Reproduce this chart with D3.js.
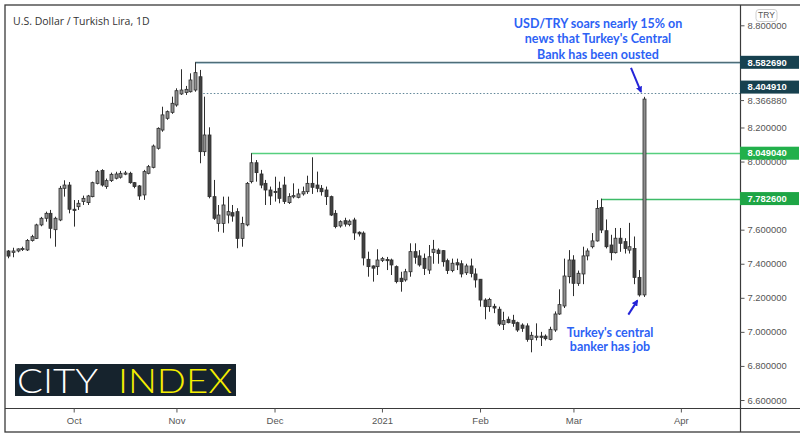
<!DOCTYPE html>
<html><head><meta charset="utf-8">
<script src="https://cdn.jsdelivr.net/npm/d3@7"></script>
<style>body{margin:0;background:#fff}svg{display:block}</style>
</head><body><svg id="c" width="800" height="439"></svg>
<script>
// ---- data ----
const startDate = "2020-09-11", endDate = "2021-03-22", axisEndDate = "2021-04-09";
const opens = [7.475,7.467,7.475,7.485,7.481,7.536,7.549,7.628,7.667,7.696,7.600,7.657,7.843,7.862,7.720,7.735,7.765,7.759,7.794,7.872,7.947,7.853,7.888,7.902,7.908,7.931,7.931,7.876,7.857,7.804,7.931,7.966,8.078,8.185,8.254,8.289,8.332,8.397,8.405,8.410,8.420,8.498,8.058,8.156,7.794,7.637,7.637,7.686,7.700,7.706,7.549,7.628,7.882,7.993,7.927,7.872,7.833,7.825,7.843,7.862,7.759,7.794,7.790,7.810,7.823,7.872,7.862,7.843,7.833,7.794,7.696,7.622,7.653,7.630,7.657,7.585,7.580,7.426,7.387,7.383,7.420,7.425,7.422,7.383,7.315,7.305,7.353,7.471,7.446,7.432,7.363,7.467,7.480,7.477,7.418,7.360,7.406,7.400,7.347,7.387,7.340,7.309,7.187,7.148,7.150,7.133,7.044,7.074,7.068,7.054,7.040,7.035,6.956,6.970,6.975,6.975,6.956,7.011,7.105,7.152,7.324,7.422,7.285,7.340,7.446,7.500,7.534,7.730,7.594,7.510,7.465,7.550,7.530,7.480,7.490,7.320,7.217];
const highs = [7.480,7.494,7.490,7.500,7.545,7.570,7.635,7.675,7.706,7.716,7.676,7.857,7.890,7.880,7.774,7.774,7.800,7.804,7.882,7.951,7.955,7.900,7.935,7.940,7.945,7.945,7.940,7.880,7.862,7.951,7.980,8.100,8.201,8.322,8.300,8.381,8.430,8.542,8.444,8.518,8.58269,8.538,8.381,8.201,7.892,7.745,7.794,7.794,7.745,7.726,7.676,7.880,8.04904,8.009,7.951,7.892,7.853,7.911,7.882,7.911,7.814,7.872,7.840,7.853,7.917,8.025,7.941,7.862,7.853,7.800,7.715,7.655,7.670,7.660,7.670,7.590,7.590,7.471,7.390,7.485,7.440,7.440,7.430,7.390,7.353,7.370,7.520,7.520,7.480,7.460,7.510,7.540,7.490,7.480,7.430,7.430,7.430,7.420,7.400,7.430,7.373,7.310,7.197,7.200,7.165,7.148,7.118,7.090,7.100,7.060,7.050,7.050,7.000,7.050,7.000,6.985,7.030,7.120,7.250,7.430,7.480,7.450,7.360,7.500,7.490,7.580,7.774,7.7826,7.660,7.570,7.610,7.610,7.550,7.640,7.560,7.363,8.380];
const lows = [7.432,7.438,7.467,7.475,7.475,7.530,7.545,7.620,7.647,7.549,7.500,7.650,7.794,7.696,7.618,7.716,7.745,7.745,7.790,7.866,7.853,7.840,7.880,7.895,7.900,7.920,7.870,7.843,7.775,7.775,7.925,7.960,8.070,8.175,8.245,8.280,8.322,8.391,8.391,8.405,8.410,7.990,8.033,7.784,7.657,7.588,7.582,7.637,7.647,7.491,7.500,7.620,7.872,7.882,7.843,7.745,7.745,7.765,7.755,7.751,7.751,7.784,7.784,7.800,7.810,7.810,7.820,7.800,7.745,7.680,7.608,7.612,7.618,7.620,7.540,7.560,7.390,7.324,7.295,7.334,7.410,7.363,7.334,7.285,7.236,7.295,7.324,7.400,7.383,7.334,7.340,7.400,7.400,7.383,7.340,7.350,7.363,7.320,7.334,7.320,7.260,7.148,7.074,7.118,7.110,7.035,7.011,7.050,7.030,7.000,7.000,6.942,6.880,6.950,6.917,6.950,6.950,7.000,7.100,7.140,7.285,7.210,7.270,7.280,7.420,7.490,7.530,7.580,7.490,7.420,7.460,7.470,7.460,7.460,7.280,7.207,7.205];
const closes = [7.445,7.475,7.487,7.490,7.536,7.559,7.628,7.667,7.696,7.608,7.667,7.843,7.862,7.720,7.716,7.755,7.784,7.798,7.876,7.941,7.862,7.888,7.925,7.927,7.931,7.933,7.876,7.853,7.798,7.941,7.970,8.091,8.195,8.274,8.293,8.342,8.416,8.420,8.424,8.479,8.522,8.058,8.156,7.794,7.667,7.686,7.745,7.706,7.680,7.549,7.637,7.872,7.993,7.935,7.862,7.833,7.798,7.820,7.784,7.765,7.794,7.800,7.810,7.823,7.872,7.849,7.843,7.823,7.794,7.686,7.618,7.647,7.633,7.650,7.581,7.575,7.434,7.383,7.374,7.422,7.430,7.420,7.393,7.295,7.295,7.353,7.471,7.438,7.393,7.373,7.441,7.485,7.460,7.412,7.360,7.403,7.393,7.340,7.387,7.343,7.305,7.187,7.148,7.190,7.140,7.046,7.066,7.054,7.050,7.011,7.021,6.956,6.980,6.975,6.970,6.960,7.015,7.105,7.160,7.328,7.422,7.285,7.344,7.446,7.475,7.534,7.725,7.598,7.500,7.465,7.550,7.520,7.490,7.500,7.320,7.217,8.36688];
const monthTickDates = ["2020-10-01","2020-11-02","2020-12-01","2021-01-01","2021-02-01","2021-03-01","2021-04-01"];
const monthTickLabels = ["Oct","Nov","Dec","2021","Feb","Mar","Apr"];
const priceTicks = [6.6,6.8,7.0,7.2,7.4,7.6,8.0,8.2,8.8];
const levelValues = [8.58269, 8.40491, 8.04904, 7.7826];
const levelLabels = ["8.582690","8.404910","8.049040","7.782600"];
const levelStartDates = ["2020-11-06","2020-11-09","2020-11-24","2021-03-09"];
const lastPrice = 8.36688, lastPriceLabel = "8.366880";
const titleText = "U.S. Dollar / Turkish Lira, 1D";
const noteTop = ["USD/TRY soars nearly 15% on","news that Turkey's Central","Bank has been ousted"];
const noteBottom = ["Turkey's central","banker has job"];

// ---- calendar (trading weekdays) ----
const parse = d3.utcParse("%Y-%m-%d"), fmt = d3.utcFormat("%Y-%m-%d");
const weekdays = (a,b) => d3.utcDay.range(parse(a), d3.utcDay.offset(parse(b),1)).filter(d => d.getUTCDay()!==0 && d.getUTCDay()!==6).map(fmt);
const dates = weekdays(startDate, endDate);
const axisDates = weekdays(startDate, axisEndDate);
const idx = s => axisDates.indexOf(s);

const svg = d3.select("#c");
const W = 800, H = 439;
const plotL = 5, plotR = 740, plotT = 5, plotB = 408, frameB = 432;
const labelFont = "'Liberation Sans', Arial, sans-serif";

const x = d3.scaleLinear().domain([0, dates.length-1]).range([8.3, 643.5]);
const y = d3.scaleLinear().domain([6.6, 8.8]).range([400, 25.3]);

svg.append("rect").attr("width",W).attr("height",H).attr("fill","#fff");

const defs = svg.append("defs");
defs.append("clipPath").attr("id","plot").append("rect")
  .attr("x",plotL).attr("y",plotT).attr("width",plotR-plotL).attr("height",plotB-plotT);
defs.append("marker").attr("id","ah").attr("viewBox","0 0 10 10").attr("refX",8).attr("refY",5)
  .attr("markerWidth",3.2).attr("markerHeight",3.2).attr("orient","auto")
  .append("path").attr("d","M0,0L10,5L0,10z").attr("fill","#2424d8");

const plot = svg.append("g").attr("clip-path","url(#plot)");

// level lines
const lv = levelValues.map((v,k)=>({v, label:levelLabels[k], start: dates.indexOf(levelStartDates[k])}));
const lineStyles = [
  {stroke:"#4e6d78", w:1.4, dash:null},
  {stroke:"#5f8597", w:1, dash:"1.5,2"},
  {stroke:"#56cf7e", w:1.6, dash:null},
  {stroke:"#3dbb68", w:1.5, dash:null}
];
plot.append("line").attr("x1",x(lv[0].start)).attr("x2",plotR)
  .attr("y1",Math.round(y(lv[0].v))+1.5).attr("y2",Math.round(y(lv[0].v))+1.5)
  .attr("stroke","#d2e6f0").attr("stroke-width",1);
lv.forEach((d,k)=>{
  const yy = Math.round(y(d.v))+0.5;
  plot.append("line").attr("x1",x(d.start)).attr("x2",plotR).attr("y1",yy).attr("y2",yy)
    .attr("stroke",lineStyles[k].stroke).attr("stroke-width",lineStyles[k].w)
    .attr("stroke-dasharray",lineStyles[k].dash);
});

// candles
const candles = dates.map((d,i)=>({i, o:opens[i], h:highs[i], l:lows[i], c:closes[i]}));
const cg = plot.append("g");
cg.selectAll("line.w").data(candles).join("line").attr("class","w")
  .attr("x1",d=>Math.round(x(d.i))+0.5).attr("x2",d=>Math.round(x(d.i))+0.5)
  .attr("y1",d=>y(d.h)).attr("y2",d=>y(d.l)).attr("stroke","#2e2e2e").attr("stroke-width",1);
cg.selectAll("rect.b").data(candles).join("rect").attr("class","b")
  .attr("x",d=>Math.round(x(d.i))-1)
  .attr("width",3)
  .attr("y",d=>y(Math.max(d.o,d.c)))
  .attr("height",d=>Math.max(1.2, Math.abs(y(d.o)-y(d.c))))
  .attr("fill",d=>d.c>=d.o ? "#8f8f8f" : "#414141")
  .attr("stroke","#2e2e2e").attr("stroke-width",0.8);

// frame
svg.append("rect").attr("x",plotL).attr("y",plotT).attr("width",W-plotL+2).attr("height",frameB-plotT)
  .attr("fill","none").attr("stroke","#3a3a3a").attr("stroke-width",1.3);
svg.append("line").attr("x1",plotL).attr("x2",W).attr("y1",plotB+0.5).attr("y2",plotB+0.5)
  .attr("stroke","#3a3a3a").attr("stroke-width",1.2);
svg.append("line").attr("x1",plotR+0.5).attr("x2",plotR+0.5).attr("y1",plotT).attr("y2",frameB)
  .attr("stroke","#3a3a3a").attr("stroke-width",1.2);

// x axis
const xa = svg.append("g").attr("transform",`translate(0,${plotB+0.5})`)
  .call(d3.axisBottom(x).tickValues(monthTickDates.map(idx))
    .tickFormat((d,k)=>monthTickLabels[k]).tickSize(4).tickPadding(5));
xa.select(".domain").remove();
xa.selectAll("line").attr("stroke","#555");
xa.selectAll("text").attr("font-family",labelFont).attr("font-size",9.5).attr("fill","#555");

// y axis
const ya = svg.append("g").attr("transform",`translate(${plotR+0.5},0)`)
  .call(d3.axisRight(y).tickValues(priceTicks).tickFormat(d3.format(".6f")).tickSize(4).tickPadding(3));
ya.select(".domain").remove();
ya.selectAll("line").attr("stroke","#555");
ya.selectAll("text").attr("font-family",labelFont).attr("font-size",9.4).attr("fill","#555");

// last price plain label
const lpY = y(lastPrice)+1.5;
svg.append("line").attr("x1",plotR).attr("x2",plotR+4).attr("y1",lpY).attr("y2",lpY).attr("stroke","#555");
svg.append("text").attr("x",plotR+7.5).attr("y",lpY).attr("dy","0.34em")
  .attr("font-family",labelFont).attr("font-size",9.4).attr("fill","#555").text(lastPriceLabel);

// level label boxes
const boxFill = ["#17414f","#17414f","#22b04b","#1ea545"];
const boxOffset = [0,-5.5,0,0];
lv.forEach((d,k)=>{
  const cy = y(d.v)+boxOffset[k];
  svg.append("rect").attr("x",plotR).attr("y",cy-6.5).attr("width",W-plotR-1).attr("height",13).attr("fill",boxFill[k]);
  svg.append("text").attr("x",plotR+7.5).attr("y",cy).attr("dy","0.35em")
    .attr("font-family",labelFont).attr("font-size",9.4).attr("font-weight","bold")
    .attr("fill","#fff").text(d.label);
});

// TRY badge
svg.append("rect").attr("x",756).attr("y",9.5).attr("width",21).attr("height",12).attr("rx",3)
  .attr("fill","#fff").attr("stroke","#cfcfcf");
svg.append("text").attr("x",766.5).attr("y",15.5).attr("dy","0.35em").attr("text-anchor","middle")
  .attr("font-family",labelFont).attr("font-size",8.5).attr("fill","#555").text("TRY");

// title
svg.append("text").attr("x",13).attr("y",24.5)
  .attr("font-family","'Open Sans', sans-serif").attr("font-size",10.5).attr("fill","#333").text(titleText);

// annotations
const noteFont = "Lato, 'Open Sans', sans-serif";
const last = dates.length-1;
noteTop.forEach((t,k)=>{
  svg.append("text").attr("x",598).attr("y",28+k*15.3).attr("text-anchor","middle")
    .attr("font-family",noteFont).attr("font-weight","bold").attr("font-size",12.5).attr("fill","#2d62f5").text(t);
});
noteBottom.forEach((t,k)=>{
  svg.append("text").attr("x",610).attr("y",336.5+k*14.5).attr("text-anchor","middle")
    .attr("font-family",noteFont).attr("font-weight","bold").attr("font-size",12.5).attr("fill","#2d62f5").text(t);
});
const tipTop = [x(last)-2.5, y(highs[last])-5];
svg.append("line").attr("x1",tipTop[0]-10).attr("y1",tipTop[1]-24).attr("x2",tipTop[0]).attr("y2",tipTop[1])
  .attr("stroke","#2424d8").attr("stroke-width",2).attr("marker-end","url(#ah)");
const tipBot = [x(last-1)-1.5, y(lows[last-1])+4];
svg.append("line").attr("x1",tipBot[0]-9).attr("y1",tipBot[1]+14).attr("x2",tipBot[0]).attr("y2",tipBot[1])
  .attr("stroke","#2424d8").attr("stroke-width",2).attr("marker-end","url(#ah)");

// logo
const logo = svg.append("g");
logo.append("rect").attr("x",15).attr("y",364).attr("width",221).attr("height",32).attr("fill","#16232d");
logo.append("text").attr("x",17).attr("y",392.5).attr("font-family","Lato, sans-serif").attr("font-weight",300)
  .attr("font-size",33).attr("fill","#ffffff").attr("textLength",81).attr("lengthAdjust","spacingAndGlyphs").text("CITY");
logo.append("text").attr("x",118).attr("y",392.5).attr("font-family","Lato, sans-serif").attr("font-weight",300)
  .attr("font-size",33).attr("fill","#f5ee00").attr("textLength",114).attr("lengthAdjust","spacingAndGlyphs").text("INDEX");
</script>
</body></html>
